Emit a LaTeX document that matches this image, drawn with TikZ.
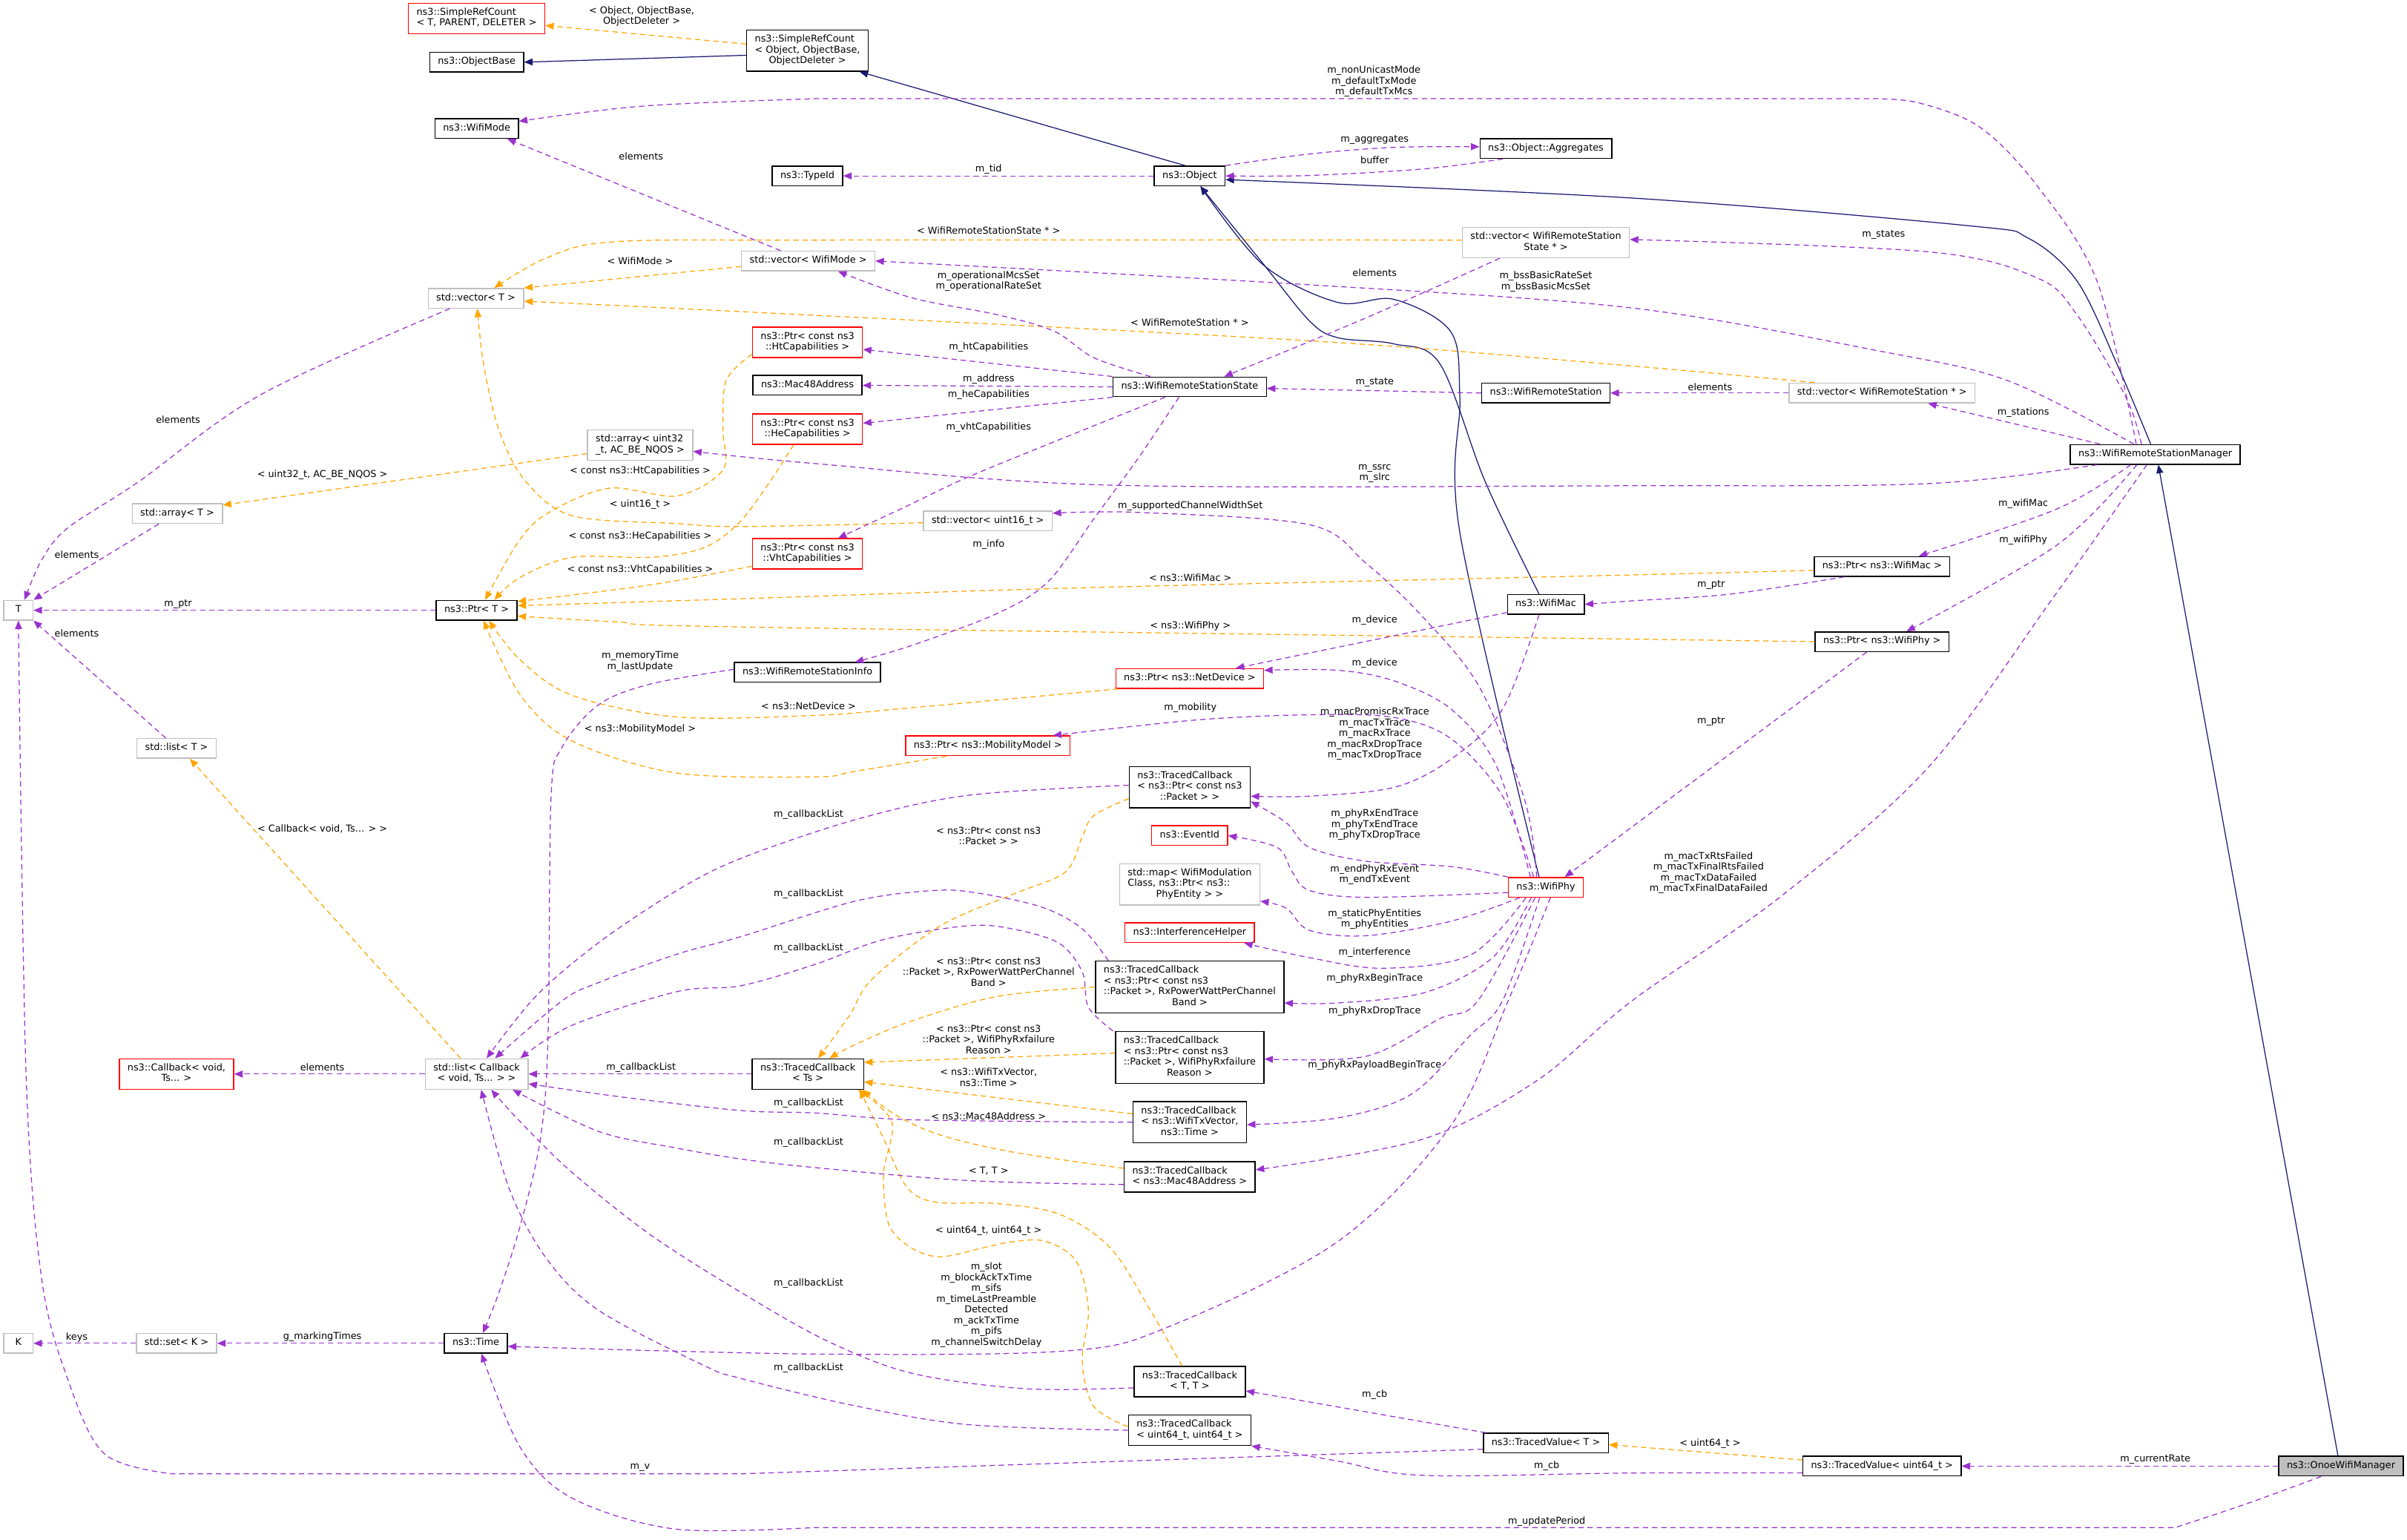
\documentclass[tikz,border=0pt]{standalone}
\usepackage{fontspec}
\setmainfont{DejaVu Sans}
\usetikzlibrary{arrows.meta}
\definecolor{dxpurple}{RGB}{154,50,205}
\definecolor{dxorange}{RGB}{255,165,0}
\definecolor{dxnavy}{RGB}{25,25,112}
\definecolor{dxgray}{RGB}{191,191,191}
\definecolor{dxred}{RGB}{255,0,0}
% lines left aligned, last line centred
\newcommand{\dxlines}[2]{\begin{tabular}[b]{@{}l@{}}#1\\\multicolumn{1}{@{}c@{}}{#2}\end{tabular}}

\begin{document}
\begin{tikzpicture}[x=1pt,y=-1pt,font=\fontsize{6.2}{7}\selectfont,
    dxbox/.style={fill=white,line width=.7pt,inner xsep=5.3pt,inner ysep=2.9pt,
      minimum width=19pt,execute at begin node=\strut},
    cls/.style={dxbox,draw=black},
    tmpl/.style={dxbox,draw=dxgray},
    ext/.style={dxbox,draw=dxred},
    focus/.style={dxbox,draw=black,fill=dxgray},
    lbl/.style={inner sep=0pt,align=center},
    dxtip/.style={-{Triangle[length=5.5pt,width=4.5pt]}},
    uses/.style={dxtip,dxpurple,line width=.6pt,dash pattern=on 3.5pt off 2.5pt},
    inst/.style={dxtip,dxorange,line width=.6pt,dash pattern=on 3.5pt off 2.5pt},
    inh/.style={dxtip,dxnavy,line width=.6pt},
    smoothly/.style={smooth,tension=.55}]
  \useasboundingbox (0,0) rectangle (1568,1003);

  % Classes, top to bottom.
  \node[ext] (nSrcT) at (310.5,12) {\dxlines{ns3::SimpleRefCount}{< T, PARENT, DELETER >}};
  \node[cls] (nObjBase) at (310.5,40.5) {ns3::ObjectBase};
  \node[cls] (nSrcObj) at (526,33) {\dxlines{ns3::SimpleRefCount\\< Object, ObjectBase,}{ObjectDeleter >}};
  \node[cls] (nWifiMode) at (310.5,83.7) {ns3::WifiMode};
  \node[cls] (nTypeId) at (526,114.6) {ns3::TypeId};
  \node[cls] (nObject) at (775,114.6) {ns3::Object};
  \node[cls] (nAggr) at (1007,96.8) {ns3::Object::Aggregates};
  \node[tmpl] (nVecWRSS) at (1007,158) {\dxlines{std::vector< WifiRemoteStation}{State * >}};
  \node[tmpl] (nVecMode) at (526.5,170) {std::vector< WifiMode >};
  \node[tmpl] (nVecT) at (310,194.3) {std::vector< T >};
  \node[ext] (nHtCap) at (526,223) {\dxlines{ns3::Ptr< const ns3}{::HtCapabilities >}};
  \node[cls] (nMac48) at (526,251) {ns3::Mac48Address};
  \node[cls] (nWRSS) at (775,252) {ns3::WifiRemoteStationState};
  \node[cls] (nWRS) at (1007,256) {ns3::WifiRemoteStation};
  \node[tmpl] (nVecWRS) at (1226,256) {std::vector< WifiRemoteStation * >};
  \node[ext] (nHeCap) at (526,279.5) {\dxlines{ns3::Ptr< const ns3}{::HeCapabilities >}};
  \node[tmpl] (nArrU32) at (417,290) {\dxlines{std::array< uint32}{\_t, AC\_BE\_NQOS >}};
  \node[cls] (nManager) at (1404,296) {ns3::WifiRemoteStationManager};
  \node[tmpl] (nArrT) at (115.5,334.5) {std::array< T >};
  \node[tmpl] (nVecU16) at (643.5,339.3) {std::vector< uint16\_t >};
  \node[ext] (nVhtCap) at (526,360.8) {\dxlines{ns3::Ptr< const ns3}{::VhtCapabilities >}};
  \node[cls] (nPtrMac) at (1226,369) {ns3::Ptr< ns3::WifiMac >};
  \node[cls] (nWifiMac) at (1007,393.7) {ns3::WifiMac};
  \node[tmpl] (nT) at (12,397.5) {T};
  \node[cls] (nPtrT) at (310.5,397.5) {ns3::Ptr< T >};
  \node[cls] (nPtrPhy) at (1226,418) {ns3::Ptr< ns3::WifiPhy >};
  \node[cls] (nInfo) at (526,438) {ns3::WifiRemoteStationInfo};
  \node[ext] (nNetDev) at (775,442) {ns3::Ptr< ns3::NetDevice >};
  \node[ext] (nMob) at (643.5,485.8) {ns3::Ptr< ns3::MobilityModel >};
  \node[tmpl] (nListT) at (115,487.5) {std::list< T >};
  \node[cls] (nTcPkt) at (775,512.7) {\dxlines{ns3::TracedCallback\\< ns3::Ptr< const ns3}{::Packet > >}};
  \node[ext] (nEvent) at (775,544.3) {ns3::EventId};
  \node[tmpl] (nMap) at (775,576) {\dxlines{std::map< WifiModulation\\Class, ns3::Ptr< ns3::}{PhyEntity > >}};
  \node[ext] (nWifiPhy) at (1007,578) {ns3::WifiPhy};
  \node[ext] (nIntf) at (775,607.5) {ns3::InterferenceHelper};
  \node[cls] (nTcRxPow) at (775,643) {\dxlines{ns3::TracedCallback\\< ns3::Ptr< const ns3\\::Packet >, RxPowerWattPerChannel}{Band >}};
  \node[cls] (nTcRxFail) at (775,688.8) {\dxlines{ns3::TracedCallback\\< ns3::Ptr< const ns3\\::Packet >, WifiPhyRxfailure}{Reason >}};
  \node[cls] (nTcTs) at (526.3,699.6) {\dxlines{ns3::TracedCallback}{< Ts >}};
  \node[tmpl] (nListCb) at (310.5,699.6) {\dxlines{std::list< Callback}{< void, Ts... > >}};
  \node[ext] (nCb) at (115,699.6) {\dxlines{ns3::Callback< void,}{Ts... >}};
  \node[cls] (nTcTxVec) at (775,731) {\dxlines{ns3::TracedCallback\\< ns3::WifiTxVector,}{ns3::Time >}};
  \node[cls] (nTcMac48) at (775,766.6) {\dxlines{ns3::TracedCallback}{< ns3::Mac48Address >}};
  \node[tmpl] (nK) at (12,875) {K};
  \node[tmpl] (nSetK) at (115,875) {std::set< K >};
  \node[cls] (nTime) at (310,875) {ns3::Time};
  \node[cls] (nTcTT) at (775,900) {\dxlines{ns3::TracedCallback}{< T, T >}};
  \node[cls] (nTcU64) at (775,931.6) {\dxlines{ns3::TracedCallback}{< uint64\_t, uint64\_t >}};
  \node[cls] (nTvT) at (1007,940) {ns3::TracedValue< T >};
  \node[cls] (nTvU64) at (1226,955) {ns3::TracedValue< uint64\_t >};
  \node[focus] (nOnoe) at (1525,955) {ns3::OnoeWifiManager};

  % Inheritance.
  \draw[inh] ([yshift=-3pt]nSrcObj.west) -- (nObjBase.east);
  \draw[inh] ([xshift=-3pt]nObject.north) -- ([xshift=34pt]nSrcObj.south);
  \draw[inh] plot[smoothly] coordinates {([xshift=-3pt]nManager.north) (1379,237) (1353,183) (1321,155) (1282,147) (1063,129) ([yshift=-2.4pt]nObject.east)};
  \draw[inh] plot[smoothly] coordinates {([xshift=-4.4pt]nWifiMac.north) (967.6,314) (938,237) (908,224) (871.5,220) (853,209) (823,172) ([xshift=7pt]nObject.south)};
  \draw[inh] plot[smoothly] coordinates {([xshift=-4.4pt]nWifiPhy.north) (951,347) (951,259) (945,216) (908,195) (871.5,197) (823,172.6) ([xshift=7pt]nObject.south)};
  \draw[inh] ([xshift=-2pt]nOnoe.north) -- ([xshift=2pt]nManager.south);

  % Template instances.
  \draw[inst] ([yshift=4.3pt]nSrcObj.west) -- ([yshift=-4.6pt]nSrcT.east);
  \draw[inst] plot[smoothly] coordinates {([yshift=1.6pt]nVecWRSS.west) (531,156.4) (400,157.5) (356,168) ([xshift=12pt]nVecT.north)};
  \draw[inst] ([yshift=-3.6pt]nVecMode.west) -- (nVecT.north east);
  \draw[inst] plot[smoothly] coordinates {([xshift=-44pt]nVecWRS.north) (1063,238.4) (853,222) (483,203) ([yshift=-1.9pt]nVecT.east)};
  \draw[inst] plot[smoothly] coordinates {([yshift=-1.2pt]nVecU16.west) (483,343) (441,341) (373,336) (342,313) (325,280) (315,237) ([xshift=1pt]nVecT.south)};
  \draw[inst] ([yshift=-5.5pt]nArrU32.west) -- ([yshift=5.5pt]nArrT.east);
  \draw[inst] plot[smoothly] coordinates {([yshift=-7.8pt]nHtCap.west) (473,248) (471,280) (471,306) (441,323) (397,318) (359,333) (339,351) ([xshift=5.5pt]nPtrT.north)};
  \draw[inst] plot[smoothly] coordinates {([xshift=-9pt]nHeCap.south) (500,316) (481,341) (458,357) (424,363) (373,363) (339,376) ([xshift=11.5pt]nPtrT.north)};
  \draw[inst] plot[smoothly] coordinates {([yshift=-8pt]nVhtCap.west) (423.7,381) ([yshift=-1pt]nPtrT.north east)};
  \draw[inst] plot[smoothly] coordinates {([yshift=-2.5pt]nPtrMac.west) (1063,374.5) (700,383) (483,390) ([yshift=3pt]nPtrT.east)};
  \draw[inst] plot[smoothly] coordinates {(nPtrPhy.west) (1063,416.3) (483,408.4) (400,405) ([yshift=-3.8pt]nPtrT.east)};
  \draw[inst] plot[smoothly] coordinates {([xshift=2pt]nNetDev.south west) (594,461) (531,466) (441,467) (373,453) (339,430) ([xshift=8pt]nPtrT.south)};
  \draw[inst] plot[smoothly] coordinates {([xshift=-27pt]nMob.south) (557,502.4) (531.5,506) (440.7,503.5) (373,482.8) (339,452.8) ([xshift=4.5pt]nPtrT.south)};
  \draw[inst] ([xshift=-10.5pt]nListCb.north) -- ([xshift=8.7pt]nListT.south);
  \draw[inst] plot[smoothly] coordinates {([yshift=-7.5pt]nTcPkt.west) (712.5,531.3) (705,545) (694,568) (660.7,582.2) (612.7,603) (568.3,637.6) (553,662) ([xshift=6.7pt]nTcTs.north)};
  \draw[inst] plot[smoothly] coordinates {(nTcRxPow.west) (650,649) (594,665) (558,680) ([xshift=14pt]nTcTs.north)};
  \draw[inst] ([yshift=2.8pt]nTcRxFail.west) -- ([yshift=7.6pt]nTcTs.east);
  \draw[inst] ([yshift=5.5pt]nTcTxVec.west) -- ([yshift=-5.1pt]nTcTs.east);
  \draw[inst] plot[smoothly] coordinates {([yshift=5.6pt]nTcMac48.west) (660.7,750.6) (612.7,739.4) (583,726) ([xshift=-1pt]nTcTs.south east)};
  \draw[inst] plot[smoothly] coordinates {([xshift=-5pt]nTcTT.north) (749.4,853.5) (723.5,813) (690.3,791) (649.6,784) (609,783) (590.6,773) (575.6,741.7) ([xshift=-3pt]nTcTs.south east)};
  \draw[inst] plot[smoothly] coordinates {([yshift=2.3pt]nTcU64.west) (712.5,916) (705,887) (709,853.5) (701.4,822) (681.6,808.7) (660.7,808.7) (639.7,813) (612.7,818.6) (594,813) (579,797.6) (575.6,764) (581,730.8) ([xshift=-4pt]nTcTs.south east)};
  \draw[inst] ([yshift=4pt]nTvU64.west) -- ([yshift=-1pt]nTvT.east);

  % Members of the manager and of Onoe.
  \draw[uses] plot[smoothly] coordinates {([xshift=-12.4pt]nManager.north) (1366,183) (1327,121) (1290,83) (1250,67) (1220,64.3)}
    -- plot[smoothly] coordinates {(531.5,64.3) (420,69) ([yshift=4.7pt]nWifiMode.east)};
  \draw[uses] plot[smoothly] coordinates {([xshift=-14pt]nManager.north) (1308,248) (1224,228.6) (1063,200.6) (853,185.5) (nVecMode.east)};
  \draw[uses] plot[smoothly] coordinates {([xshift=-9pt]nManager.north) (1385,259) (1353,205) (1327,181) (1256,164) ([yshift=2pt]nVecWRSS.east)};
  \draw[uses] ([xshift=-36pt]nManager.north) -- ([xshift=30pt]nVecWRS.south);
  \draw[uses] plot[smoothly] coordinates {([xshift=-38pt]nManager.south) (1256,315) (1063,316.4) (723,316) (531.5,302) ([yshift=-4pt]nArrU32.east)};
  \draw[uses] plot[smoothly] coordinates {([xshift=-16pt]nManager.south) (1340,331.5) ([xshift=24pt]nPtrMac.north)};
  \draw[uses] plot[smoothly] coordinates {([xshift=-12pt]nManager.south) (1340,355) ([xshift=16pt]nPtrPhy.north)};
  \draw[uses] plot[smoothly] coordinates {([xshift=-5.5pt]nManager.south) (1337,390) (1256,500) (1160,584) (1063,652) (1001,704) (927,742) ([yshift=4.6pt]nTcMac48.east)};
  \draw[uses] plot[smoothly] coordinates {([xshift=-13pt]nOnoe.south) (1465,979) (1417,995)}
    -- plot[smoothly] coordinates {(531,995) (440,996) (373,976) (339,943) ([xshift=3.6pt]nTime.south)};
  \draw[uses] (nOnoe.west) -- (nTvU64.east);
  \draw[uses] plot[smoothly] coordinates {([yshift=-4.4pt]nTvU64.west) (1063,959.5) (926.8,961) (871.5,951.7) (nTcU64.south east)};
  \draw[uses] ([yshift=-4pt]nTvT.west) -- (483,960)
    -- plot[smoothly] coordinates {(112,960) (68,947) (44,898) (27,832) (17,700) (nT.south)};
  \draw[uses] ([xshift=2pt]nTvT.north west) -- ([yshift=-6pt]nTcTT.east);
  \draw[uses] (nSetK.west) -- (nK.east);
  \draw[uses] (nTime.west) -- (nSetK.east);

  % Station state, object and containers.
  \draw[uses] plot[smoothly] coordinates {([yshift=2pt]nInfo.west) (424,445.5) (390,459) (366,487) (359,519) (357,676) (352,742) (339,798) (325,842) ([xshift=4.6pt]nTime.north)};
  \draw[uses] plot[smoothly] coordinates {([xshift=-7pt]nWRSS.south) (742,297.7) (712.5,338) (682.8,378.8) (649.6,399.6) (594,420.4) ([xshift=31pt]nInfo.north)};
  \draw[uses] plot[smoothly] coordinates {([xshift=-16pt]nWRSS.south) (705,280.4) (631,310.6) (590,330) ([xshift=20pt]nVhtCap.north)};
  \draw[uses] (nWRSS.south west) -- ([yshift=3.8pt]nHeCap.east);
  \draw[uses] (nWRSS.west) -- (nMac48.east);
  \draw[uses] (nWRSS.north west) -- ([yshift=-4.6pt]nHtCap.east);
  \draw[uses] plot[smoothly] coordinates {([xshift=-25.6pt]nWRSS.north) (712.5,233) (686.6,215.7) (649.6,205) (594,194) ([xshift=19.5pt]nVecMode.south)};
  \draw[uses] plot[smoothly] coordinates {([xshift=-30pt]nVecWRSS.south) (890,207) ([xshift=22.5pt]nWRSS.north)};
  \draw[uses] (nWRS.west) -- ([yshift=-1pt]nWRSS.east);
  \draw[uses] (nVecWRS.west) -- (nWRS.east);
  \draw[uses] ([xshift=-18pt]nVecMode.north) -- ([xshift=20pt]nWifiMode.south);
  \draw[uses] plot[smoothly] coordinates {(nObject.north east) (853,100.3) (908.4,96) ([yshift=1.2pt]nAggr.west)};
  \draw[uses] plot[smoothly] coordinates {([xshift=-28pt]nAggr.south) (927.8,110) (853,114.3) (nObject.east)};
  \draw[uses] (nObject.west) -- (nTypeId.east);
  \draw[uses] (nPtrT.west) -- (nT.east);
  \draw[uses] ([xshift=-12pt]nArrT.south) -- (nT.north east);
  \draw[uses] ([xshift=-7pt]nListT.north) -- (nT.south east);
  \draw[uses] plot[smoothly] coordinates {([xshift=-17pt]nVecT.south) (170,257) (90,314) (44,344) (27,365) ([xshift=4pt]nT.north)};

  % Callback lists.
  \draw[uses] (nTcTs.west) -- (nListCb.east);
  \draw[uses] (nListCb.west) -- (nCb.east);
  \draw[uses] plot[smoothly] coordinates {([yshift=1.2pt]nTcPkt.west) (631,518) (557,534) (483,559) (441,580) (390,614) (349,649) ([xshift=6.5pt]nListCb.north)};
  \draw[uses] plot[smoothly] coordinates {([xshift=-53pt]nTcRxPow.north) (705,605) (679,591) (638.5,582) (609,580) (557,587) (483,610) (441,621.5) (390,640) (366,652) ([xshift=12pt]nListCb.north)};
  \draw[uses] plot[smoothly] coordinates {([xshift=-50pt]nTcRxFail.north) (709,656) (705,633) (690,614.5) (660.7,605.3) (631,603) (575.6,612) (531.5,628) (483,642) (440.7,646) (373,667.7) ([xshift=28.5pt]nListCb.north)};
  \draw[uses] plot[smoothly] coordinates {(nTcTxVec.west) (594,729.4) (531.5,725) (483,723.4) (406.8,714.8) ([yshift=-6.4pt]nListCb.east)};
  \draw[uses] plot[smoothly] coordinates {([yshift=-5pt]nTcMac48.west) (631,769) (531.5,760.6) (483,755) (440.7,747.8) (390,737) ([xshift=23.5pt]nListCb.south)};
  \draw[uses] plot[smoothly] coordinates {([yshift=-4pt]nTcTT.west) (668,904.6) (594,894.5) (538.7,873.4) (483,842) (423.7,804.3) (373,764) (339,730.8) ([xshift=9.5pt]nListCb.south)};
  \draw[uses] plot[smoothly] coordinates {(nTcU64.west) (631,928) (557,915.7) (483,898) (457.6,889) (389.8,853.4) (356,819.8) (332,775) ([xshift=3pt]nListCb.south)};

  % Mac and Phy members.
  \draw[uses] plot[smoothly] coordinates {([xshift=-4.4pt]nWifiMac.south) (978.7,462) (945.4,494.4) (908.4,512.8) (853,518.6) ([yshift=-5.9pt]nTcPkt.east)};
  \draw[uses] plot[smoothly] coordinates {(nWifiPhy.north west) (945.4,564.5) (890,561) (853,552) (838,536) ([yshift=-9.3pt]nTcPkt.east)};
  \draw[uses] plot[smoothly] coordinates {([yshift=-3.4pt]nWifiPhy.west) (890,584.5) (853,580) (841.8,568) (832,552) (nEvent.east)};
  \draw[uses] plot[smoothly] coordinates {([xshift=-17pt]nWifiPhy.south) (945.4,600) (890,609.5) (853,606) (838,591.6) ([yshift=-11pt]nMap.east)};
  \draw[uses] plot[smoothly] coordinates {([xshift=-13pt]nWifiPhy.south) (958,622) (901,630.7) (853,623.8) ([xshift=35.5pt]nIntf.south)};
  \draw[uses] plot[smoothly] coordinates {([xshift=-9.5pt]nWifiPhy.south) (972.3,623.8) (927.8,646.6) (871.5,653.3) ([yshift=-10.3pt]nTcRxPow.east)};
  \draw[uses] plot[smoothly] coordinates {([xshift=-7pt]nWifiPhy.south) (962.6,652) (938,663.5) (890,688) ([yshift=-1pt]nTcRxFail.east)};
  \draw[uses] plot[smoothly] coordinates {([xshift=-4pt]nWifiPhy.south) (978.7,652) (957.6,674.5) (919.6,712.6) (871.5,728.2) ([yshift=-1.6pt]nTcTxVec.east)};
  \draw[uses] plot[smoothly] coordinates {([xshift=3pt]nWifiPhy.south) (982.4,652) (945.4,732.8) (871.5,808.7) (760.6,864.5) (694,880) (531.5,882) ([yshift=-2pt]nTime.east)};
  \draw[uses] plot[smoothly] coordinates {([xshift=-10pt]nWifiPhy.north) (974.8,499) (945.4,462) (908.4,443.6) (871.5,436.6) ([yshift=5.4pt]nNetDev.east)};
  \draw[uses] plot[smoothly] coordinates {([xshift=-8pt]nWifiPhy.north) (978.7,518.4) (945.4,481.3) (908.4,467.4) (853,465.6) (779,469) ([xshift=42.5pt]nMob.north)};
  \draw[uses] plot[smoothly] coordinates {([xshift=-6pt]nWifiPhy.north) (993.5,522) (964,448) (927,402) (890,367) (853,341.8) (742,333.8) ([yshift=5pt]nVecU16.east)};
  \draw[uses] ([yshift=-5.3pt]nWifiMac.west) -- ([xshift=30pt]nNetDev.north);
  \draw[uses] plot[smoothly] coordinates {([xshift=-24.5pt]nPtrMac.south) (1127,387) (1063,391.4) (nWifiMac.east)};
  \draw[uses] ([xshift=-10pt]nPtrPhy.south) -- ([xshift=12.4pt]nWifiPhy.north);

  % Edge labels.
  \node[lbl] (l01) at (418,10.5) {< Object, ObjectBase,\\ObjectDeleter >};
  \node[lbl] (l02) at (417.6,102) {elements};
  \node[lbl] (l03) at (895,53) {m\_nonUnicastMode\\m\_defaultTxMode\\m\_defaultTxMcs};
  \node[lbl] (l04) at (895.5,91) {m\_aggregates};
  \node[lbl] (l05) at (895.5,104.4) {buffer};
  \node[lbl] (l06) at (644,110) {m\_tid};
  \node[lbl] (l07) at (644,150) {< WifiRemoteStationState * >};
  \node[lbl] (l08) at (1227,153) {m\_states};
  \node[lbl] (l09) at (417,170) {< WifiMode >};
  \node[lbl] (l10) at (644,183.3) {m\_operationalMcsSet\\m\_operationalRateSet};
  \node[lbl] (l11) at (895.5,177.5) {elements};
  \node[lbl] (l12) at (1007,183.5) {m\_bssBasicRateSet\\m\_bssBasicMcsSet};
  \node[lbl] (l13) at (775,210) {< WifiRemoteStation * >};
  \node[lbl] (l14) at (644,226) {m\_htCapabilities};
  \node[lbl] (l15) at (644,247) {m\_address};
  \node[lbl] (l16) at (644,257) {m\_heCapabilities};
  \node[lbl] (l17) at (895.5,249) {m\_state};
  \node[lbl] (l18) at (1114,252) {elements};
  \node[lbl] (l19) at (1318,268.6) {m\_stations};
  \node[lbl] (l20) at (116,273.5) {elements};
  \node[lbl] (l21) at (644,278.5) {m\_vhtCapabilities};
  \node[lbl] (l22) at (895.5,308.5) {m\_ssrc\\m\_slrc};
  \node[lbl] (l23) at (210,309.5) {< uint32\_t, AC\_BE\_NQOS >};
  \node[lbl] (l24) at (417,307) {< const ns3::HtCapabilities >};
  \node[lbl] (l25) at (1318,328) {m\_wifiMac};
  \node[lbl] (l26) at (417,328.5) {< uint16\_t >};
  \node[lbl] (l27) at (775.4,329.8) {m\_supportedChannelWidthSet};
  \node[lbl] (l28) at (417,349.5) {< const ns3::HeCapabilities >};
  \node[lbl] (l29) at (1318,351.6) {m\_wifiPhy};
  \node[lbl] (l30) at (644,354.7) {m\_info};
  \node[lbl] (l31) at (50,361.5) {elements};
  \node[lbl] (l32) at (417,371) {< const ns3::VhtCapabilities >};
  \node[lbl] (l33) at (775.4,376.4) {< ns3::WifiMac >};
  \node[lbl] (l34) at (1114.6,381) {m\_ptr};
  \node[lbl] (l35) at (116,393.6) {m\_ptr};
  \node[lbl] (l36) at (775.4,407.8) {< ns3::WifiPhy >};
  \node[lbl] (l37) at (895.5,403.8) {m\_device};
  \node[lbl] (l38) at (50,412.7) {elements};
  \node[lbl] (l39) at (417,430.8) {m\_memoryTime\\m\_lastUpdate};
  \node[lbl] (l40) at (895.5,432.2) {m\_device};
  \node[lbl] (l41) at (526.7,459.7) {< ns3::NetDevice >};
  \node[lbl] (l42) at (775.4,461) {m\_mobility};
  \node[lbl] (l43) at (895.5,478) {m\_macPromiscRxTrace\\m\_macTxTrace\\m\_macRxTrace\\m\_macRxDropTrace\\m\_macTxDropTrace};
  \node[lbl] (l44) at (417,475) {< ns3::MobilityModel >};
  \node[lbl] (l45) at (1114.6,470) {m\_ptr};
  \node[lbl] (l46) at (526.7,530.6) {m\_callbackList};
  \node[lbl] (l47) at (210,540) {< Callback< void, Ts... > >};
  \node[lbl] (l48) at (644,544.5) {< ns3::Ptr< const ns3\\::Packet > >};
  \node[lbl] (l49) at (895.5,537.3) {m\_phyRxEndTrace\\m\_phyTxEndTrace\\m\_phyTxDropTrace};
  \node[lbl] (l50) at (895.5,569.7) {m\_endPhyRxEvent\\m\_endTxEvent};
  \node[lbl] (l51) at (1113,568.5) {m\_macTxRtsFailed\\m\_macTxFinalRtsFailed\\m\_macTxDataFailed\\m\_macTxFinalDataFailed};
  \node[lbl] (l52) at (526.7,582.2) {m\_callbackList};
  \node[lbl] (l53) at (895.5,598.7) {m\_staticPhyEntities\\m\_phyEntities};
  \node[lbl] (l54) at (526.7,617.6) {m\_callbackList};
  \node[lbl] (l55) at (895.5,620.3) {m\_interference};
  \node[lbl] (l56) at (644,633) {< ns3::Ptr< const ns3\\::Packet >, RxPowerWattPerChannel\\Band >};
  \node[lbl] (l57) at (895.5,637.2) {m\_phyRxBeginTrace};
  \node[lbl] (l58) at (895.5,658.6) {m\_phyRxDropTrace};
  \node[lbl] (l59) at (644,677) {< ns3::Ptr< const ns3\\::Packet >, WifiPhyRxfailure\\Reason >};
  \node[lbl] (l60) at (895.5,694.1) {m\_phyRxPayloadBeginTrace};
  \node[lbl] (l61) at (210,695.3) {elements};
  \node[lbl] (l62) at (417.6,695.3) {m\_callbackList};
  \node[lbl] (l63) at (644,701.6) {< ns3::WifiTxVector,\\ns3::Time >};
  \node[lbl] (l64) at (526.7,718.7) {m\_callbackList};
  \node[lbl] (l65) at (644,727) {< ns3::Mac48Address >};
  \node[lbl] (l66) at (526.7,744.4) {m\_callbackList};
  \node[lbl] (l67) at (644,762.7) {< T, T >};
  \node[lbl] (l68) at (644,801.8) {< uint64\_t, uint64\_t >};
  \node[lbl] (l69) at (642.6,850) {m\_slot\\m\_blockAckTxTime\\m\_sifs\\m\_timeLastPreamble\\Detected\\m\_ackTxTime\\m\_pifs\\m\_channelSwitchDelay};
  \node[lbl] (l70) at (526.7,836.2) {m\_callbackList};
  \node[lbl] (l71) at (50,871) {keys};
  \node[lbl] (l72) at (210,871) {g\_markingTimes};
  \node[lbl] (l73) at (526.7,891.2) {m\_callbackList};
  \node[lbl] (l74) at (895.5,908.6) {m\_cb};
  \node[lbl] (l75) at (1114,940.6) {< uint64\_t >};
  \node[lbl] (l76) at (1404,950.5) {m\_currentRate};
  \node[lbl] (l77) at (1007.6,955) {m\_cb};
  \node[lbl] (l78) at (417,956) {m\_v};
  \node[lbl] (l79) at (1007.6,991) {m\_updatePeriod};
\end{tikzpicture}
\end{document}
